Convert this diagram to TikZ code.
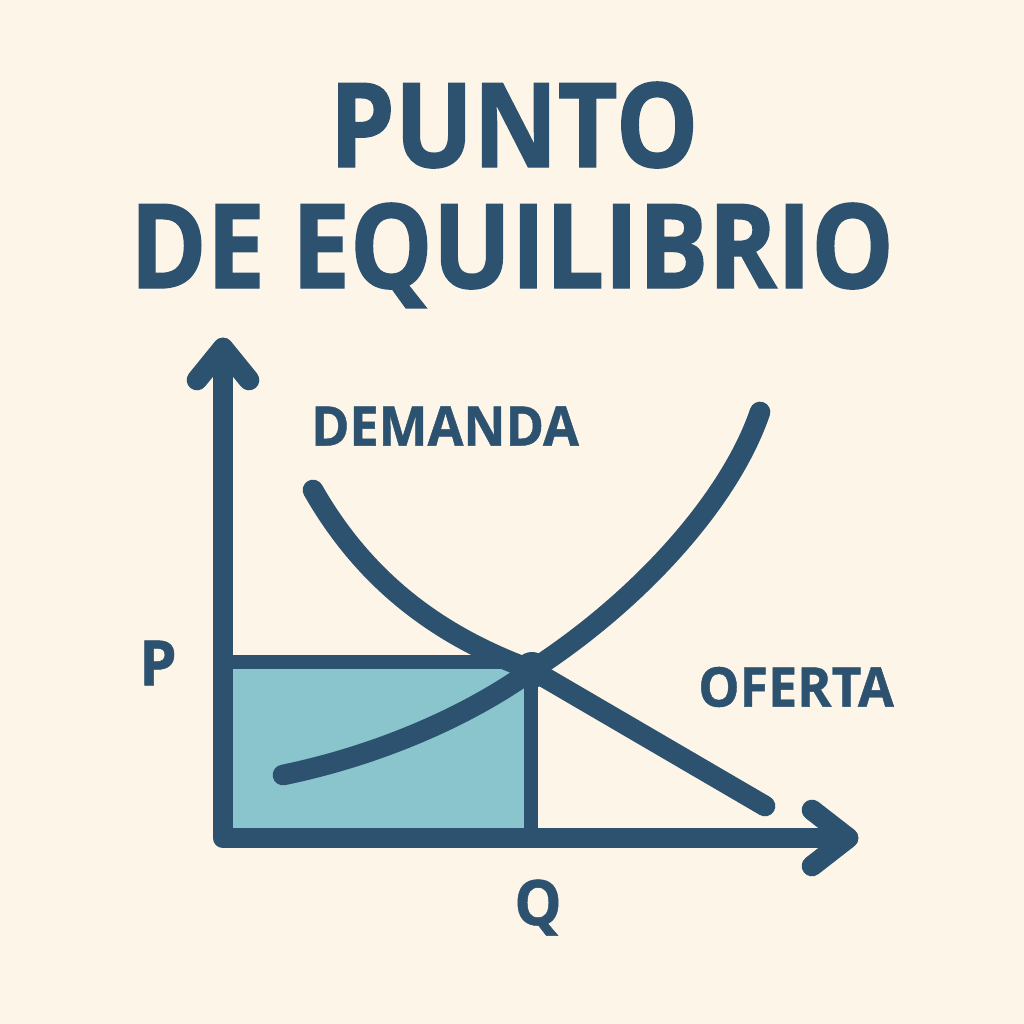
\documentclass[tikz,border=0pt]{standalone}
\usepackage{fontspec}
\setmainfont{Open Sans}
\newfontfamily\ttlfont[FakeStretch=0.885,FakeBold=1.2]{Open Sans}
\newfontfamily\lblfont[FakeStretch=0.95,FakeBold=0.8]{Open Sans}
\definecolor{bgc}{HTML}{FDF5E8}
\definecolor{ink}{HTML}{2C5270}
\definecolor{tealf}{HTML}{8AC4CC}
\tikzset{
  thick line/.style={draw=ink, line width=15.5pt, line cap=round, line join=round},
  guide line/.style={draw=ink, line width=10.5pt, line cap=butt},
  lbl/.style={text=ink, font=\lblfont\bfseries\fontsize{41}{41}\selectfont, inner sep=0pt},
  axl/.style={text=ink, font=\lblfont\bfseries\fontsize{47}{47}\selectfont, inner sep=0pt},
  ttl/.style={text=ink, font=\ttlfont\bfseries\fontsize{88}{92}\selectfont, inner sep=0pt, align=center},
}
\begin{document}
\begin{tikzpicture}[x=0.75pt,y=-0.75pt]
\fill[bgc] (0,0) rectangle (1024,1024);
\useasboundingbox (0,0) rectangle (1024,1024);
% title
\node[ttl, anchor=base] (t1) at (514,167) {PUNTO};
\node[ttl, anchor=base] (t2) at (512,288) {DE EQUILIBRIO};
% coordinates
\coordinate (O) at (223,838);
\coordinate (E) at (532,670);
\coordinate (Py) at (223,662);
\coordinate (Pe) at (531,662);
\coordinate (Qt) at (531,670);
\coordinate (Qx) at (531,838);
\coordinate (Ytop) at (223,348);
\coordinate (Xend) at (848,838);
% shaded rectangle
\fill[tealf] (233,668) rectangle (526,829);
\draw[guide line] (Py) -- (Pe);
\draw[guide line] (Qt) -- (Qx);
% curves
\coordinate (D0) at (313,490);
\coordinate (D1) at (765,806);
\coordinate (S0) at (283,775);
\coordinate (S1) at (760,412);
\draw[thick line] (D0) .. controls (370,590) and (450,640) .. (E) -- (D1);
\draw[thick line] (S0) .. controls (380,755) and (470,715) .. (E) .. controls (640,600) and (730,500) .. (S1);
% axes
\draw[thick line] (Ytop) -- (O) -- (Xend);
\draw[thick line] (197,380) -- (Ytop) -- (249,380);
\draw[thick line] (812,810) -- (Xend) -- (812,866);
% equilibrium point
\fill[ink] (E) circle (18);
% labels
\node[lbl] (dem) at (445,426) {DEMANDA};
\node[lbl] (ofe) at (796,687) {OFERTA};
\node[axl] (p) at (158,663) {P};
\node[axl, anchor=base] (q) at (538,925) {Q};
\end{tikzpicture}
\end{document}
